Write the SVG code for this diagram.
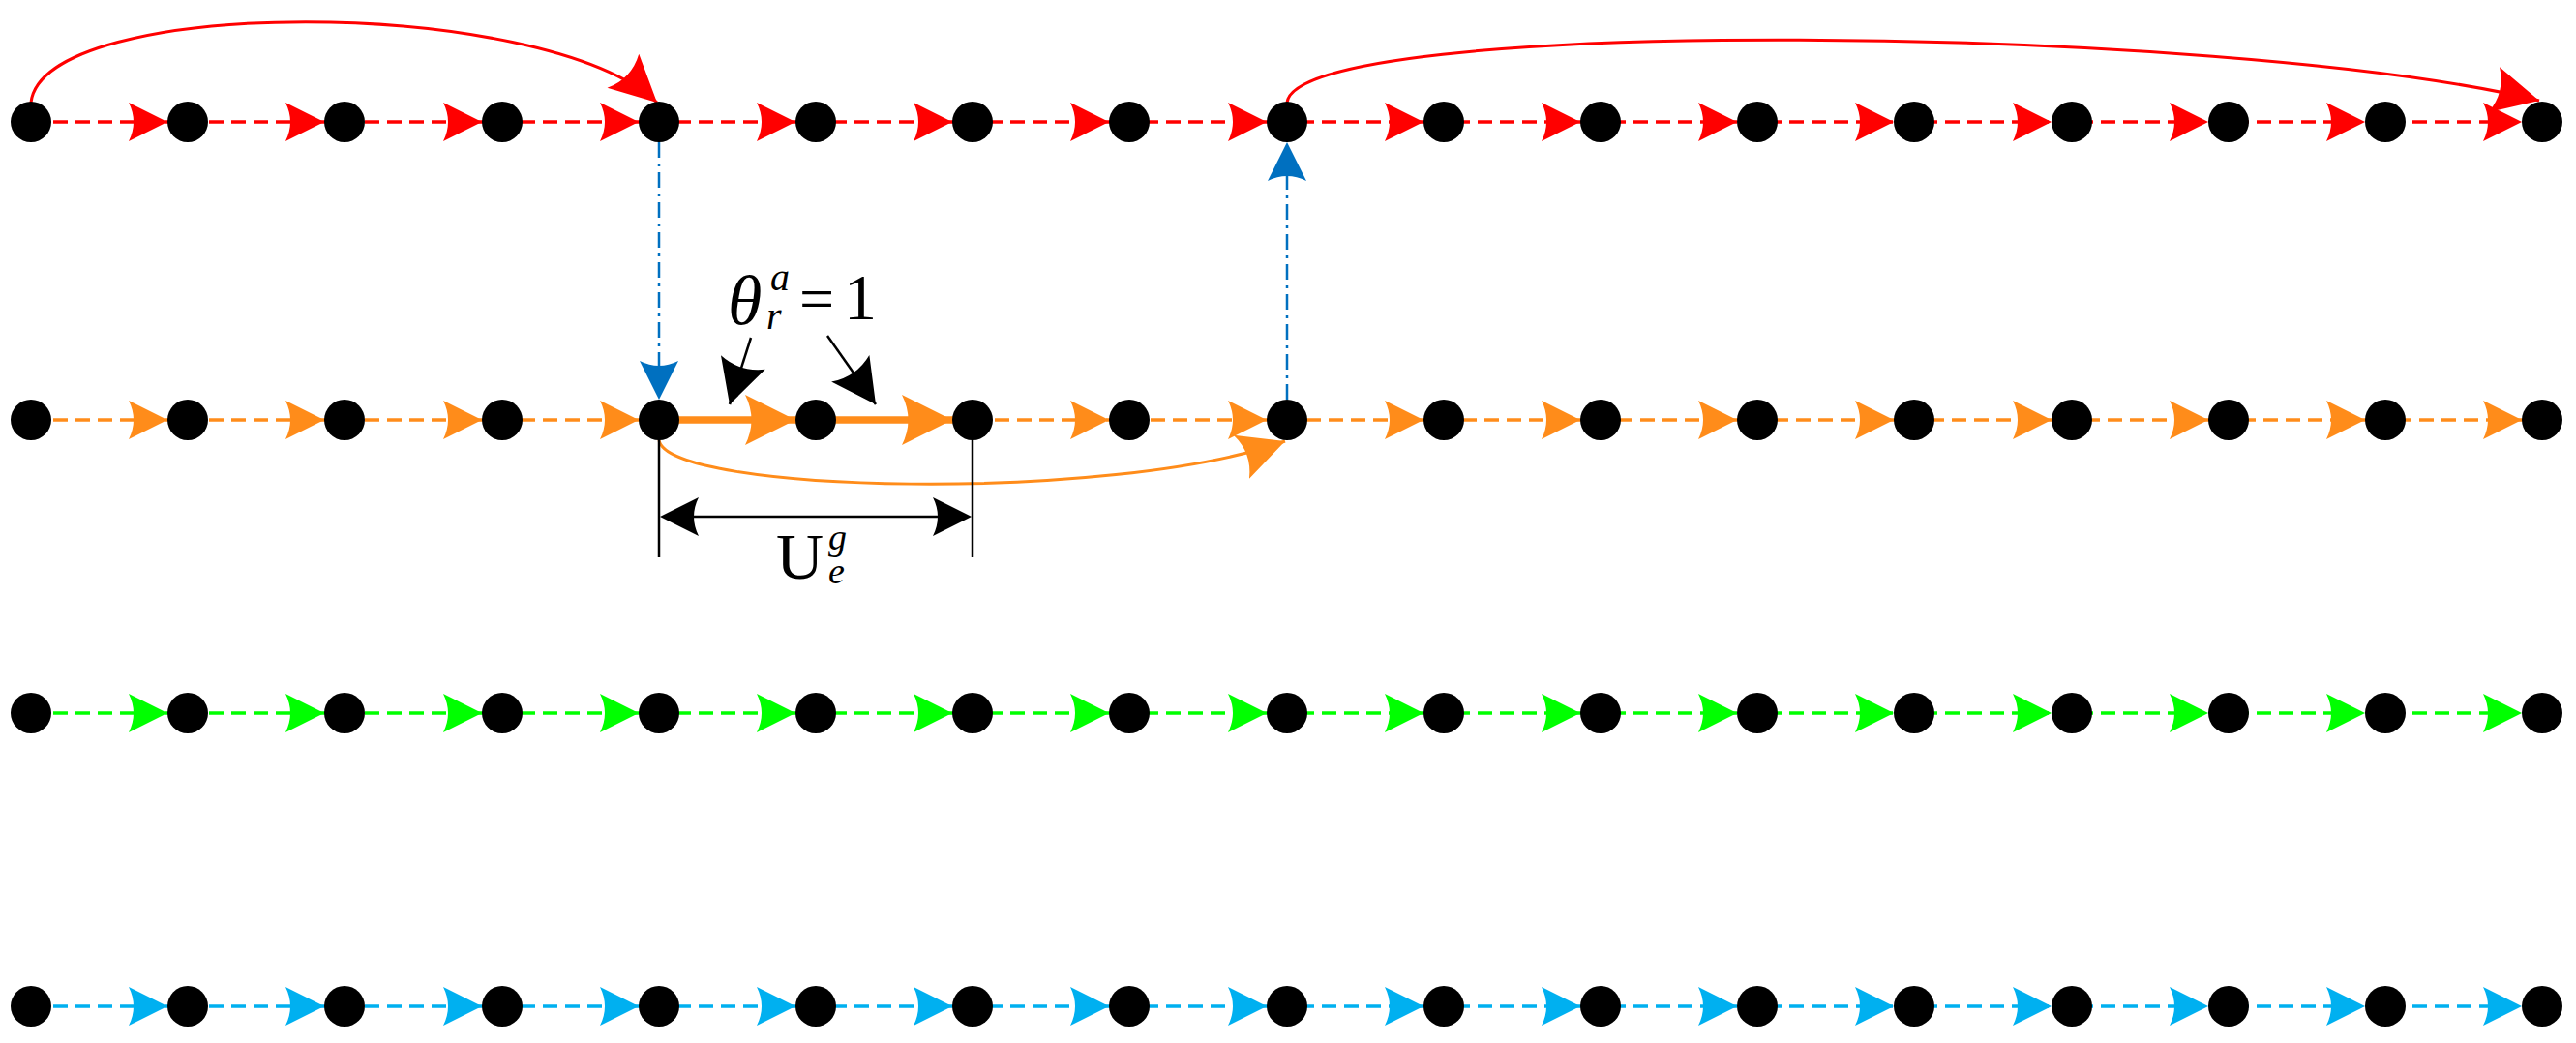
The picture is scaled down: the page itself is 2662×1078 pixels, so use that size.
<svg xmlns="http://www.w3.org/2000/svg" xmlns:xlink="http://www.w3.org/1999/xlink" width="2662" height="1078" viewBox="0 0 2662 1078">
<style>
.n{fill:#000}
.dl{fill:none;stroke-width:3.5;stroke-dasharray:15 8}
.r{stroke:#FF0000}.rf{fill:#FF0000}
.o{stroke:#FF8C1A}.of{fill:#FF8C1A}
.g{stroke:#00FF00}.gf{fill:#00FF00}
.c{stroke:#00B0F0}.cf{fill:#00B0F0}
.b{stroke:#0070C0;fill:none;stroke-width:2.5;stroke-dasharray:16 6 3 6}
.t{font-family:"Liberation Serif","Times New Roman",serif;fill:#000}
</style>
<defs>
<path id="ah" d="M0,0 L-40,-20 Q-30,0 -40,20 Z"/>
<marker id="mr" markerUnits="userSpaceOnUse" markerWidth="60" markerHeight="60" viewBox="-45 -25 50 50" refX="0" refY="0" orient="auto"><path d="M0,0 L-40,-20 Q-30,0 -40,20 Z" fill="#FF0000"/></marker>
<marker id="mo" markerUnits="userSpaceOnUse" markerWidth="60" markerHeight="60" viewBox="-45 -25 50 50" refX="0" refY="0" orient="auto"><path d="M0,0 L-40,-20 Q-30,0 -40,20 Z" fill="#FF8C1A"/></marker>
<marker id="mk" markerUnits="userSpaceOnUse" markerWidth="60" markerHeight="60" viewBox="-45 -25 50 50" refX="0" refY="0" orient="auto"><path d="M0,0 L-38,-20 Q-29,0 -38,20 Z" fill="#000"/></marker>
</defs>
<g id="connectors">
<line class="dl r" x1="32" y1="126" x2="2627" y2="126"/>
<line class="dl o" x1="32" y1="434" x2="681" y2="434"/>
<line class="dl o" x1="1005" y1="434" x2="2627" y2="434"/>
<line x1="681" y1="434" x2="1000" y2="434" stroke="#FF8C1A" stroke-width="7.5"/>
<line class="dl g" x1="32" y1="737" x2="2627" y2="737"/>
<line class="dl c" x1="32" y1="1040" x2="2627" y2="1040"/>
<g class="rf">
<use xlink:href="#ah" x="173" y="126"/><use xlink:href="#ah" x="335" y="126"/><use xlink:href="#ah" x="498" y="126"/><use xlink:href="#ah" x="660" y="126"/><use xlink:href="#ah" x="822" y="126"/><use xlink:href="#ah" x="984" y="126"/><use xlink:href="#ah" x="1146" y="126"/><use xlink:href="#ah" x="1309" y="126"/><use xlink:href="#ah" x="1471" y="126"/><use xlink:href="#ah" x="1633" y="126"/><use xlink:href="#ah" x="1795" y="126"/><use xlink:href="#ah" x="1957" y="126"/><use xlink:href="#ah" x="2120" y="126"/><use xlink:href="#ah" x="2282" y="126"/><use xlink:href="#ah" x="2444" y="126"/><use xlink:href="#ah" x="2606" y="126"/>
</g>
<g class="of">
<use xlink:href="#ah" x="173" y="434"/><use xlink:href="#ah" x="335" y="434"/><use xlink:href="#ah" x="498" y="434"/><use xlink:href="#ah" x="660" y="434"/>
<use xlink:href="#ah" transform="translate(822,434) scale(1.3)"/><use xlink:href="#ah" transform="translate(984,434) scale(1.3)"/>
<use xlink:href="#ah" x="1146" y="434"/><use xlink:href="#ah" x="1309" y="434"/><use xlink:href="#ah" x="1471" y="434"/><use xlink:href="#ah" x="1633" y="434"/><use xlink:href="#ah" x="1795" y="434"/><use xlink:href="#ah" x="1957" y="434"/><use xlink:href="#ah" x="2120" y="434"/><use xlink:href="#ah" x="2282" y="434"/><use xlink:href="#ah" x="2444" y="434"/><use xlink:href="#ah" x="2606" y="434"/>
</g>
<g class="gf">
<use xlink:href="#ah" x="173" y="737"/><use xlink:href="#ah" x="335" y="737"/><use xlink:href="#ah" x="498" y="737"/><use xlink:href="#ah" x="660" y="737"/><use xlink:href="#ah" x="822" y="737"/><use xlink:href="#ah" x="984" y="737"/><use xlink:href="#ah" x="1146" y="737"/><use xlink:href="#ah" x="1309" y="737"/><use xlink:href="#ah" x="1471" y="737"/><use xlink:href="#ah" x="1633" y="737"/><use xlink:href="#ah" x="1795" y="737"/><use xlink:href="#ah" x="1957" y="737"/><use xlink:href="#ah" x="2120" y="737"/><use xlink:href="#ah" x="2282" y="737"/><use xlink:href="#ah" x="2444" y="737"/><use xlink:href="#ah" x="2606" y="737"/>
</g>
<g class="cf">
<use xlink:href="#ah" x="173" y="1040"/><use xlink:href="#ah" x="335" y="1040"/><use xlink:href="#ah" x="498" y="1040"/><use xlink:href="#ah" x="660" y="1040"/><use xlink:href="#ah" x="822" y="1040"/><use xlink:href="#ah" x="984" y="1040"/><use xlink:href="#ah" x="1146" y="1040"/><use xlink:href="#ah" x="1309" y="1040"/><use xlink:href="#ah" x="1471" y="1040"/><use xlink:href="#ah" x="1633" y="1040"/><use xlink:href="#ah" x="1795" y="1040"/><use xlink:href="#ah" x="1957" y="1040"/><use xlink:href="#ah" x="2120" y="1040"/><use xlink:href="#ah" x="2282" y="1040"/><use xlink:href="#ah" x="2444" y="1040"/><use xlink:href="#ah" x="2606" y="1040"/>
</g>
<path d="M32,106 C45,-5 560,-5 679,106" fill="none" stroke="#FF0000" stroke-width="3" marker-end="url(#mr)"/>
<path d="M1330,106 C1340,15 2300,25 2624,104" fill="none" stroke="#FF0000" stroke-width="3" marker-end="url(#mr)"/>
<path d="M681,455 C690,510 1150,520 1328,456" fill="none" stroke="#FF8C1A" stroke-width="3" marker-end="url(#mo)"/>
<line class="b" x1="681" y1="147" x2="681" y2="390"/>
<use xlink:href="#ah" transform="translate(681,413) rotate(90)" fill="#0070C0"/>
<line class="b" x1="1330" y1="413" x2="1330" y2="170"/>
<use xlink:href="#ah" transform="translate(1330,147) rotate(-90)" fill="#0070C0"/>
<line x1="681" y1="434" x2="681" y2="576" stroke="#000" stroke-width="2.5"/>
<line x1="1005" y1="434" x2="1005" y2="576" stroke="#000" stroke-width="2.5"/>
<line x1="700" y1="534" x2="985" y2="534" stroke="#000" stroke-width="2.5"/>
<use xlink:href="#ah" transform="translate(682,534) rotate(180)"/>
<use xlink:href="#ah" x="1004" y="534"/>
<line x1="776" y1="349" x2="754" y2="418" stroke="#000" stroke-width="2.5" marker-end="url(#mk)"/>
<line x1="855" y1="347" x2="905" y2="418" stroke="#000" stroke-width="2.5" marker-end="url(#mk)"/>
</g>
<g id="labels">
<text class="t" x="752" y="335" font-size="72" font-style="italic">θ</text>
<text class="t" x="796" y="300" font-size="40" font-style="italic">a</text>
<text class="t" x="792" y="340" font-size="40" font-style="italic">r</text>
<text class="t" x="826" y="330" font-size="64">=</text>
<text class="t" x="872" y="330" font-size="68">1</text>
<text class="t" x="802" y="598" font-size="68">U</text>
<text class="t" x="856" y="568" font-size="38" font-style="italic">g</text>
<text class="t" x="856" y="603" font-size="38" font-style="italic">e</text>
</g>
<g class="n">
<g id="r1n0"><circle cx="32" cy="126" r="21"/></g><g id="r1n1"><circle cx="194" cy="126" r="21"/></g><g id="r1n2"><circle cx="356" cy="126" r="21"/></g><g id="r1n3"><circle cx="519" cy="126" r="21"/></g><g id="r1n4"><circle cx="681" cy="126" r="21"/></g><g id="r1n5"><circle cx="843" cy="126" r="21"/></g><g id="r1n6"><circle cx="1005" cy="126" r="21"/></g><g id="r1n7"><circle cx="1167" cy="126" r="21"/></g><g id="r1n8"><circle cx="1330" cy="126" r="21"/></g><g id="r1n9"><circle cx="1492" cy="126" r="21"/></g><g id="r1n10"><circle cx="1654" cy="126" r="21"/></g><g id="r1n11"><circle cx="1816" cy="126" r="21"/></g><g id="r1n12"><circle cx="1978" cy="126" r="21"/></g><g id="r1n13"><circle cx="2141" cy="126" r="21"/></g><g id="r1n14"><circle cx="2303" cy="126" r="21"/></g><g id="r1n15"><circle cx="2465" cy="126" r="21"/></g><g id="r1n16"><circle cx="2627" cy="126" r="21"/></g>
<g id="r2n0"><circle cx="32" cy="434" r="21"/></g><g id="r2n1"><circle cx="194" cy="434" r="21"/></g><g id="r2n2"><circle cx="356" cy="434" r="21"/></g><g id="r2n3"><circle cx="519" cy="434" r="21"/></g><g id="r2n4"><circle cx="681" cy="434" r="21"/></g><g id="r2n5"><circle cx="843" cy="434" r="21"/></g><g id="r2n6"><circle cx="1005" cy="434" r="21"/></g><g id="r2n7"><circle cx="1167" cy="434" r="21"/></g><g id="r2n8"><circle cx="1330" cy="434" r="21"/></g><g id="r2n9"><circle cx="1492" cy="434" r="21"/></g><g id="r2n10"><circle cx="1654" cy="434" r="21"/></g><g id="r2n11"><circle cx="1816" cy="434" r="21"/></g><g id="r2n12"><circle cx="1978" cy="434" r="21"/></g><g id="r2n13"><circle cx="2141" cy="434" r="21"/></g><g id="r2n14"><circle cx="2303" cy="434" r="21"/></g><g id="r2n15"><circle cx="2465" cy="434" r="21"/></g><g id="r2n16"><circle cx="2627" cy="434" r="21"/></g>
<g id="r3n0"><circle cx="32" cy="737" r="21"/></g><g id="r3n1"><circle cx="194" cy="737" r="21"/></g><g id="r3n2"><circle cx="356" cy="737" r="21"/></g><g id="r3n3"><circle cx="519" cy="737" r="21"/></g><g id="r3n4"><circle cx="681" cy="737" r="21"/></g><g id="r3n5"><circle cx="843" cy="737" r="21"/></g><g id="r3n6"><circle cx="1005" cy="737" r="21"/></g><g id="r3n7"><circle cx="1167" cy="737" r="21"/></g><g id="r3n8"><circle cx="1330" cy="737" r="21"/></g><g id="r3n9"><circle cx="1492" cy="737" r="21"/></g><g id="r3n10"><circle cx="1654" cy="737" r="21"/></g><g id="r3n11"><circle cx="1816" cy="737" r="21"/></g><g id="r3n12"><circle cx="1978" cy="737" r="21"/></g><g id="r3n13"><circle cx="2141" cy="737" r="21"/></g><g id="r3n14"><circle cx="2303" cy="737" r="21"/></g><g id="r3n15"><circle cx="2465" cy="737" r="21"/></g><g id="r3n16"><circle cx="2627" cy="737" r="21"/></g>
<g id="r4n0"><circle cx="32" cy="1040" r="21"/></g><g id="r4n1"><circle cx="194" cy="1040" r="21"/></g><g id="r4n2"><circle cx="356" cy="1040" r="21"/></g><g id="r4n3"><circle cx="519" cy="1040" r="21"/></g><g id="r4n4"><circle cx="681" cy="1040" r="21"/></g><g id="r4n5"><circle cx="843" cy="1040" r="21"/></g><g id="r4n6"><circle cx="1005" cy="1040" r="21"/></g><g id="r4n7"><circle cx="1167" cy="1040" r="21"/></g><g id="r4n8"><circle cx="1330" cy="1040" r="21"/></g><g id="r4n9"><circle cx="1492" cy="1040" r="21"/></g><g id="r4n10"><circle cx="1654" cy="1040" r="21"/></g><g id="r4n11"><circle cx="1816" cy="1040" r="21"/></g><g id="r4n12"><circle cx="1978" cy="1040" r="21"/></g><g id="r4n13"><circle cx="2141" cy="1040" r="21"/></g><g id="r4n14"><circle cx="2303" cy="1040" r="21"/></g><g id="r4n15"><circle cx="2465" cy="1040" r="21"/></g><g id="r4n16"><circle cx="2627" cy="1040" r="21"/></g>
</g>
</svg>
